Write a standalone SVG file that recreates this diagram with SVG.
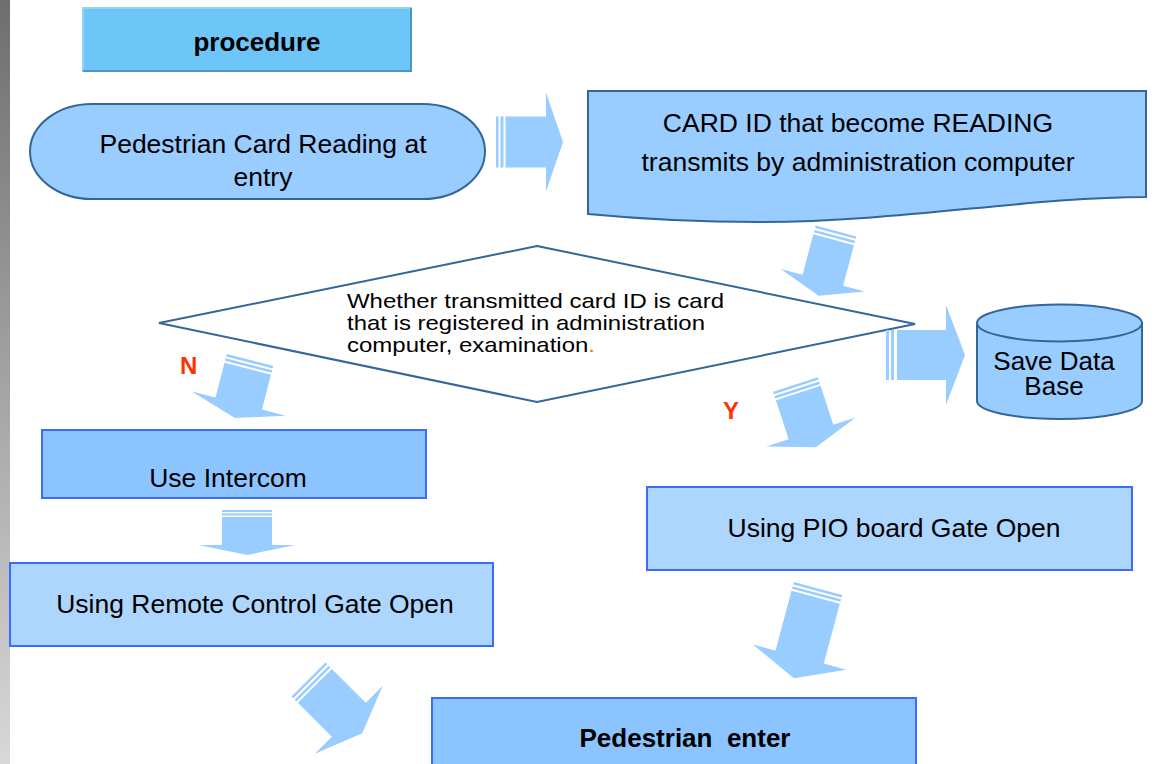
<svg xmlns="http://www.w3.org/2000/svg" width="1155" height="764" viewBox="0 0 1155 764">
<defs>
<linearGradient id="gbar" x1="0" y1="0" x2="0" y2="1">
<stop offset="0" stop-color="#6e6e6e"/>
<stop offset="1" stop-color="#d8d8d8"/>
</linearGradient>
</defs>
<style>
.t{font-family:"Liberation Sans",Arial,sans-serif;fill:#000;}
.m{font-size:26.5px;}
.shape{fill:#99ccff;stroke:#336699;stroke-width:2;}
.boxd{fill:#8bc4ff;stroke:#3b6cff;stroke-width:2;}
.boxl{fill:#acd6fd;stroke:#3b6cff;stroke-width:2;}
.arr{fill:#99ccff;stroke:none;}
.lbl{font-family:"Liberation Sans",Arial,sans-serif;font-weight:bold;font-size:24px;fill:#ff3300;}
</style>
<rect x="0" y="0" width="1155" height="764" fill="#ffffff"/>
<rect x="0" y="0" width="10" height="764" fill="url(#gbar)"/>

<g id="procedure">
<rect x="83" y="8" width="328" height="63" fill="#6ec6f8" stroke="#92d3f6" stroke-width="2"/>
<path d="M411,8 V71 H83" fill="none" stroke="#4f94c4" stroke-width="2"/>
<text class="t" x="257" y="51" font-size="26" font-weight="bold" text-anchor="middle">procedure</text>
</g>

<g id="start">
<rect class="shape" x="30" y="104" width="455" height="95" rx="62" ry="47.5"/>
<text class="t m" x="263" y="153" text-anchor="middle">Pedestrian Card Reading at</text>
<text class="t m" x="263" y="186" text-anchor="middle">entry</text>
</g>

<g id="transmit">
<path class="shape" d="M588,91 H1146 V197 C1030,197 900,222 760,222 C680,222 630,218 588,214 Z"/>
<text class="t m" x="858" y="132" text-anchor="middle">CARD ID that become READING</text>
<text class="t m" x="858" y="171" text-anchor="middle">transmits by administration computer</text>
</g>

<g id="decision">
<polygon points="537,246 915,324 537,402 159,323" fill="#ffffff" stroke="#336699" stroke-width="2"/>
<text class="t" x="347" y="308" font-size="21" textLength="377" lengthAdjust="spacingAndGlyphs">Whether transmitted card ID is card</text>
<text class="t" x="347" y="330" font-size="21" textLength="358" lengthAdjust="spacingAndGlyphs">that is registered in administration</text>
<text class="t" x="347" y="352" font-size="21" textLength="248" lengthAdjust="spacingAndGlyphs">computer, examination<tspan fill="#ff6600">.</tspan></text>
</g>

<g id="database">
<path class="shape" d="M977,323 V401 A82.5,18 0 0 0 1142,401 V323"/>
<ellipse class="shape" cx="1059.5" cy="323" rx="82.5" ry="18.5"/>
<text class="t" x="1054" y="370" font-size="26" text-anchor="middle">Save Data</text>
<text class="t" x="1054" y="395" font-size="26" text-anchor="middle">Base</text>
</g>

<g id="intercom">
<rect class="boxd" x="42" y="430" width="384" height="68"/>
<text class="t m" x="228" y="487" text-anchor="middle">Use Intercom</text>
</g>

<g id="remote">
<rect class="boxl" x="10" y="563" width="483" height="83"/>
<text class="t m" x="255" y="613" text-anchor="middle">Using Remote Control Gate Open</text>
</g>

<g id="pio">
<rect class="boxl" x="647" y="487" width="485" height="83"/>
<text class="t m" x="894" y="537" text-anchor="middle">Using PIO board Gate Open</text>
</g>

<g id="enter">
<rect class="boxd" x="432" y="698" width="484" height="80"/>
<text class="t" x="685" y="747" font-size="26" font-weight="bold" text-anchor="middle" style="white-space:pre" xml:space="preserve">Pedestrian  enter</text>
</g>

<g id="connectors">
<g transform="translate(496,142) rotate(-90)">
<rect class="arr" x="-25.5" y="0" width="51" height="2.5"/>
<rect class="arr" x="-25.5" y="4.5" width="51" height="3"/>
<polygon class="arr" points="-25.5,9.5 25.5,9.5 25.5,50 49.5,50 0,67 -49.5,50 -25.5,50"/>
</g>
<g transform="translate(836,231) rotate(15)">
<rect class="arr" x="-21" y="0" width="42" height="2.5"/>
<rect class="arr" x="-21" y="4.5" width="42" height="2.5"/>
<polygon class="arr" points="-21,9 21,9 21,51 43.5,51 0,67 -43.5,51 -21,51"/>
</g>
<g transform="translate(250,360) rotate(14.5)">
<rect class="arr" x="-24" y="0" width="48" height="2.5"/>
<rect class="arr" x="-24" y="4.5" width="48" height="2.5"/>
<polygon class="arr" points="-24,9 24,9 24,45 48.5,45 0,60 -48.5,45 -24,45"/>
</g>
<g transform="translate(795.5,384.5) rotate(-18)">
<rect class="arr" x="-23.5" y="0" width="47" height="2.5"/>
<rect class="arr" x="-23.5" y="4.5" width="47" height="2.5"/>
<polygon class="arr" points="-23.5,9 23.5,9 23.5,50 47,50 0,66 -47,50 -23.5,50"/>
</g>
<g transform="translate(886,355) rotate(-90)">
<rect class="arr" x="-25" y="0" width="50" height="3"/>
<rect class="arr" x="-25" y="5" width="50" height="3"/>
<polygon class="arr" points="-25,11 25,11 25,60 50,60 0,79 -50,60 -25,60"/>
</g>
<g transform="translate(247,510)">
<rect class="arr" x="-25" y="0" width="50" height="2"/>
<rect class="arr" x="-25" y="3.5" width="50" height="2"/>
<polygon class="arr" points="-25,7 25,7 25,35 48.5,35 0,45 -48.5,35 -25,35"/>
</g>
<g transform="translate(308.5,679.5) rotate(-45)">
<rect class="arr" x="-24" y="0" width="48" height="2.5"/>
<rect class="arr" x="-24" y="4.5" width="48" height="2.5"/>
<polygon class="arr" points="-24,9 24,9 24,57 48,57 0,76 -48,57 -24,57"/>
</g>
<g transform="translate(818,588.5) rotate(15)">
<rect class="arr" x="-25" y="0" width="50" height="2.5"/>
<rect class="arr" x="-25" y="4.5" width="50" height="2.5"/>
<polygon class="arr" points="-25,9 25,9 25,71 48.5,71 0,93 -48.5,71 -25,71"/>
</g>
<text class="lbl" x="180" y="374">N</text>
<text class="lbl" x="723" y="419">Y</text>
</g>
</svg>
